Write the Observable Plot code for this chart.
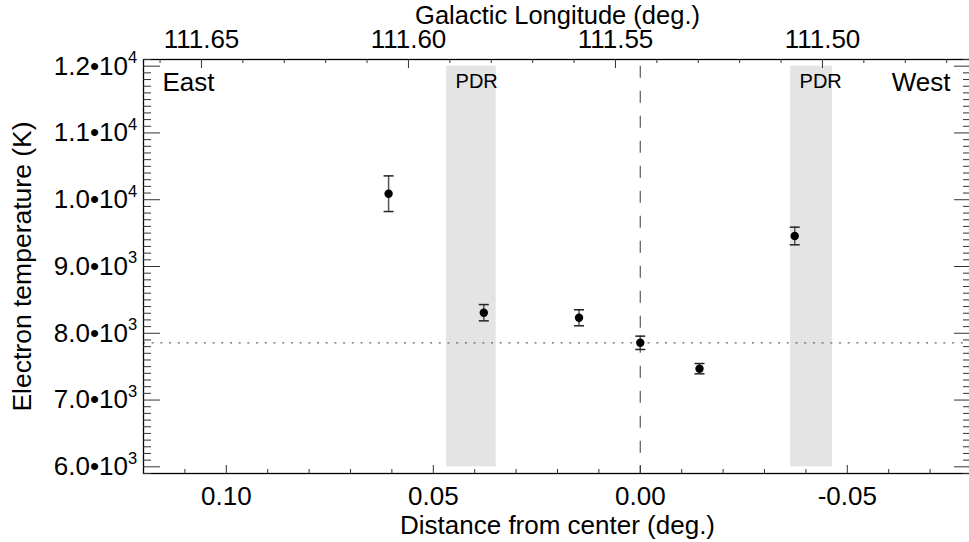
<!DOCTYPE html>
<html><head><meta charset="utf-8">
<script src="https://cdn.jsdelivr.net/npm/d3@7"></script>
<script src="https://cdn.jsdelivr.net/npm/@observablehq/plot@0.6"></script>
<style>
body{margin:0;background:#fff;}
#chart svg{display:block;}
</style>
</head><body><div id="chart"></div>
<script>
// ---- data ----
const distance = [0.0608, 0.0378, 0.0148, 0.0, -0.0143, -0.0373];
const temperature = [10090, 8308, 8232, 7857, 7470, 9457];
const tempError = [267, 122, 120, 100, 77, 132];
const meanTemperature = [7857];
const centerDistance = [0];
const pdrStart = [0.0468, -0.0363];
const pdrEnd = [0.0348, -0.0464];
const pdrLabels = ["PDR", "PDR"];
const pdrTempLow = 6000, pdrTempHigh = 12000;
const dashTempLow = 5900, dashTempHigh = 12000;
const bottomTicks = [0.10, 0.05, 0.00, -0.05];
const bottomMinorTicks = [0.11,0.09,0.08,0.07,0.06,0.04,0.03,0.02,0.01,-0.01,-0.02,-0.03,-0.04,-0.06,-0.07];
const longitudeOffset = 111.544;
const topTicks = [111.65, 111.60, 111.55, 111.50];
const topMinorTicks = [111.66,111.64,111.63,111.62,111.61,111.59,111.58,111.57,111.56,111.54,111.53,111.52,111.51,111.49,111.48,111.47];
const yTicks = [6000, 7000, 8000, 9000, 10000, 11000, 12000];
const yTickMantissa = ["6.0•10","7.0•10","8.0•10","9.0•10","1.0•10","1.1•10","1.2•10"];
const yTickExponent = ["3","3","3","3","4","4","4"];
const yMinorTicks = d3.range(5900, 12101, 100).filter(v => v % 1000 !== 0);
const sideLabels = ["East", "West"];
const xTitle = "Distance from center (deg.)";
const topTitle = "Galactic Longitude (deg.)";
const yTitle = "Electron temperature (K)";

// ---- tables ----
const points = distance.map((d, i) => ({d, t: temperature[i], e: tempError[i]}));
const bands = pdrStart.map((x1, i) => ({x1, x2: pdrEnd[i], y1: pdrTempLow, y2: pdrTempHigh, label: pdrLabels[i]}));
const yLab = yTicks.map((v, i) => ({v, m: yTickMantissa[i], e: yTickExponent[i]}));

const W = 969, H = 542, mL = 143, mR = -2, mT = 59, mB = 69;
const plotW = W - mL - mR, plotH = H - mT - mB;
const tickColor = "#333";
const font = "'Liberation Sans', Arial, Helvetica, sans-serif";
const capSymbol = {draw(ctx, size) { const w = Math.sqrt(size / Math.PI); ctx.moveTo(-w, 0); ctx.lineTo(w, 0); }};
const FS = 26, FT = 26;

const chart = Plot.plot({
  width: W, height: H,
  marginLeft: mL, marginRight: mR, marginTop: mT, marginBottom: mB,
  x: {domain: [0.12, -0.08], axis: null},
  y: {domain: [5900, 12100], axis: null},
  style: {fontFamily: font, background: "white", color: "black", overflow: "visible"},
  marks: [
    Plot.rect(bands, {x1: "x1", x2: "x2", y1: "y1", y2: "y2", fill: "#e4e4e4"}),
    Plot.ruleY(meanTemperature, {y: d => d, stroke: "#666", strokeWidth: 1.3, strokeDasharray: "2,6.7"}),
    Plot.ruleX(centerDistance, {x: d => d, y1: () => dashTempHigh, y2: () => dashTempLow, stroke: "#666", strokeWidth: 1.3, strokeDasharray: "12,13"}),
    Plot.ruleX(points, {x: "d", y1: p => p.t - p.e, y2: p => p.t + p.e, stroke: "#555", strokeWidth: 1.5}),
    Plot.dot(points, {x: "d", y: p => p.t + p.e, symbol: capSymbol, r: 5, stroke: "#222", strokeWidth: 1.5}),
    Plot.dot(points, {x: "d", y: p => p.t - p.e, symbol: capSymbol, r: 5, stroke: "#222", strokeWidth: 1.5}),
    Plot.dot(points, {x: "d", y: "t", r: 4.2, fill: "black", stroke: "none"}),
    Plot.frame({stroke: "black", strokeWidth: 1.3}),
    // bottom ticks
    Plot.tickX(bottomTicks, {x: d => d, insetTop: plotH - 8, stroke: tickColor}),
    Plot.tickX(bottomMinorTicks, {x: d => d, insetTop: plotH - 4, stroke: tickColor}),
    // top ticks (galactic longitude)
    Plot.tickX(topTicks, {x: l => l - longitudeOffset, insetBottom: plotH - 9, stroke: tickColor}),
    Plot.tickX(topMinorTicks, {x: l => l - longitudeOffset, insetBottom: plotH - 4, stroke: tickColor}),
    // left ticks
    Plot.tickY(yTicks, {y: d => d, insetRight: plotW - 17, stroke: tickColor}),
    Plot.tickY(yMinorTicks, {y: d => d, insetRight: plotW - 8, stroke: tickColor}),
    // right ticks
    Plot.tickY(yTicks, {y: d => d, insetLeft: plotW - 17, stroke: tickColor}),
    Plot.tickY(yMinorTicks, {y: d => d, insetLeft: plotW - 8, stroke: tickColor}),
    // tick labels
    Plot.text(bottomTicks, {x: d => d, frameAnchor: "bottom", dy: 23.5, text: d => d.toFixed(2), fontSize: FS, textAnchor: "middle", lineAnchor: "middle"}),
    Plot.text(topTicks, {x: l => l - longitudeOffset, frameAnchor: "top", dy: -19.8, text: l => l.toFixed(2), fontSize: FS, textAnchor: "middle", lineAnchor: "middle"}),
    Plot.text(yLab, {y: "v", text: "m", frameAnchor: "left", textAnchor: "end", dx: -15.5, fontSize: FS, lineAnchor: "middle"}),
    Plot.text(yLab, {y: "v", text: "e", frameAnchor: "left", textAnchor: "start", dx: -15.5, dy: -8.5, fontSize: 16.5, lineAnchor: "middle"}),
    // titles
    Plot.text([topTitle], {frameAnchor: "top", dy: -43.7, text: d => d, fontSize: 25.5, textAnchor: "middle", lineAnchor: "middle"}),
    Plot.text([xTitle], {frameAnchor: "bottom", dy: 52, text: d => d, fontSize: FT, textAnchor: "middle", lineAnchor: "middle"}),
    Plot.text([yTitle], {frameAnchor: "left", dx: -121, rotate: -90, text: d => d, fontSize: 26.5, textAnchor: "middle", lineAnchor: "middle"}),
    // annotations
    Plot.text([sideLabels[0]], {frameAnchor: "top-left", dx: 19, dy: 23, text: d => d, textAnchor: "start", fontSize: FT, lineAnchor: "middle"}),
    Plot.text([sideLabels[1]], {frameAnchor: "top-right", dx: -21, dy: 23, text: d => d, textAnchor: "end", fontSize: FT, lineAnchor: "middle"}),
    Plot.text(bands, {x: "x1", frameAnchor: "top", dx: 9, dy: 22, text: "label", textAnchor: "start", fontSize: 20, lineAnchor: "middle"})
  ]
});
document.getElementById("chart").appendChild(chart);
</script>
</body></html>
